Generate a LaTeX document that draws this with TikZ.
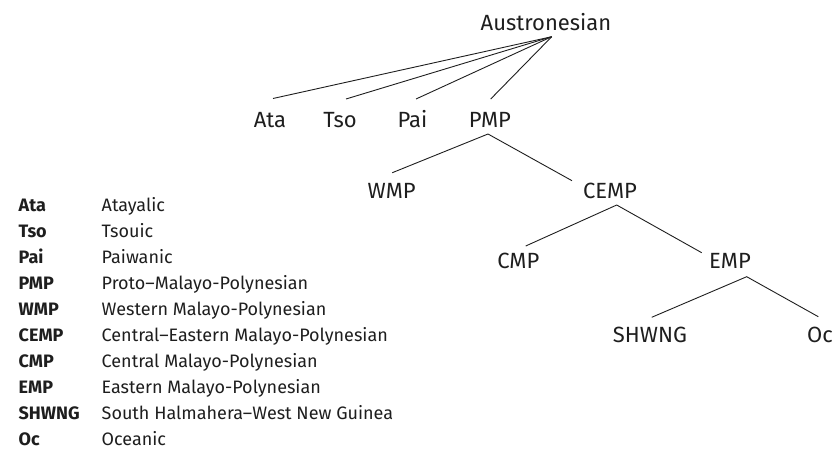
\documentclass[tikz,border=0pt]{standalone}
\usepackage{fontspec}
\setmainfont{Fira Sans}
\definecolor{ink}{HTML}{1E1E1E}
\begin{document}
\begin{tikzpicture}[x=1pt,y=-1pt,
  treelabel/.style={anchor=base,inner sep=0pt,font=\fontsize{22}{26}\selectfont,text=ink},
  abbr/.style={anchor=base west,inner sep=0pt,font=\fontsize{18}{22}\selectfont\bfseries,text=ink},
  desc/.style={anchor=base west,inner sep=0pt,font=\fontsize{18}{22}\selectfont,text=ink},
  edge/.style={draw=ink,line width=0.9pt}]
\useasboundingbox (0,0) rectangle (837,450);
% tree nodes
\node[treelabel] (aus) at (546,30) {Austronesian};
\node[treelabel] (ata) at (270,127) {Ata};
\node[treelabel] (tso) at (340,127) {Tso};
\node[treelabel] (pai) at (412.5,127) {Pai};
\node[treelabel] (pmp) at (490,127) {PMP};
\node[treelabel] (wmp) at (391.7,198) {WMP};
\node[treelabel] (cemp) at (610,198) {CEMP};
\node[treelabel] (cmp) at (518.3,268) {CMP};
\node[treelabel] (emp) at (730,268) {EMP};
\node[treelabel] (shwng) at (650,342.7) {SHWNG};
\node[treelabel] (oc) at (820,342.7) {Oc};
% edges
\draw[edge] ([xshift=3pt,yshift=28.5pt]ata.base) -- ([xshift=5.7pt,yshift=-6.7pt]aus.base);
\draw[edge] ([xshift=6pt,yshift=28pt]tso.base) -- ([xshift=5.7pt,yshift=-6.7pt]aus.base);
\draw[edge] ([xshift=3.5pt,yshift=28pt]pai.base) -- ([xshift=5.7pt,yshift=-6.7pt]aus.base);
\draw[edge] ([xshift=0.7pt,yshift=28pt]pmp.base) -- ([xshift=5.7pt,yshift=-6.7pt]aus.base);
\draw[edge] ([xshift=0.6pt,yshift=25.3pt]wmp.base) -- ([xshift=-2pt,yshift=-7pt]pmp.base) -- ([xshift=-38pt,yshift=17.3pt]cemp.base);
\draw[edge] ([xshift=7.4pt,yshift=22pt]cmp.base) -- ([xshift=6.7pt,yshift=-7pt]cemp.base) -- ([xshift=-28.3pt,yshift=15.3pt]emp.base);
\draw[edge] ([xshift=1.7pt,yshift=25.4pt]shwng.base) -- ([xshift=16.7pt,yshift=-8.7pt]emp.base) -- ([xshift=-1.7pt,yshift=26pt]oc.base);
% legend
\node[abbr] (la1) at (18.5,211.5) {Ata};
\node[desc] (ld1) at (101.5,211.5) {Atayalic};
\node[abbr] (la2) at (18.5,237.5) {Tso};
\node[desc] (ld2) at (101.5,237.5) {Tsouic};
\node[abbr] (la3) at (18.5,263.5) {Pai};
\node[desc] (ld3) at (101.5,263.5) {Paiwanic};
\node[abbr] (la4) at (18.5,289.5) {PMP};
\node[desc] (ld4) at (101.5,289.5) {Proto–Malayo-Polynesian};
\node[abbr] (la5) at (18.5,315.5) {WMP};
\node[desc] (ld5) at (101.5,315.5) {Western Malayo-Polynesian};
\node[abbr] (la6) at (18.5,341.5) {CEMP};
\node[desc] (ld6) at (101.5,341.5) {Central–Eastern Malayo-Polynesian};
\node[abbr] (la7) at (18.5,367.5) {CMP};
\node[desc] (ld7) at (101.5,367.5) {Central Malayo-Polynesian};
\node[abbr] (la8) at (18.5,393.5) {EMP};
\node[desc] (ld8) at (101.5,393.5) {Eastern Malayo-Polynesian};
\node[abbr] (la9) at (18.5,419.5) {SHWNG};
\node[desc] (ld9) at (101.5,419.5) {South Halmahera–West New Guinea};
\node[abbr] (la10) at (18.5,445.5) {Oc};
\node[desc] (ld10) at (101.5,445.5) {Oceanic};
\end{tikzpicture}
\end{document}
